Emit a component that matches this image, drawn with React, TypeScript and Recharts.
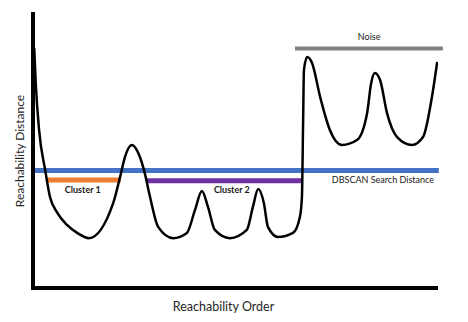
import React from 'react';
import { LineChart, Line, XAxis, YAxis, ReferenceLine, ReferenceDot } from 'recharts';

// reachability plot (order and distance both 0..100)
const curveOrder = [
  0.3, 0.7, 1.5, 3.0, 4.2, 5.9, 8.4, 10.9, 13.8, 19.8, 21.5, 22.7, 24.4, 26.4, 27.4, 28.9, 30.9,
  34.6, 38.0, 40.0, 41.7, 43.2, 44.9, 48.6, 52.8, 54.3, 55.6, 57.0, 58.0, 60.5, 64.2, 65.9,
  66.4, 66.7, 66.9, 67.7, 68.9, 70.9, 73.3, 76.3, 80.0, 82.5, 83.5, 84.4, 85.7, 87.4, 89.9,
  93.6, 96.3, 98.5, 99.8,
];
const curveDistance = [
  87.6, 74.1, 57.7, 43.1, 33.2, 27.7, 23.0, 20.1, 18.2, 31.0, 40.5, 47.8, 52.2, 47.8, 43.1, 33.2, 22.3,
  18.2, 20.1, 28.5, 35.4, 29.6, 21.2, 18.2, 21.2, 29.6, 36.1, 31.0, 22.3, 18.6, 20.1, 25.9,
  33.2, 61.3, 79.6, 84.3, 82.1, 69.7, 57.7, 52.2, 54.0, 63.9, 74.8, 78.5, 75.9, 63.9, 55.1,
  52.2, 55.1, 69.7, 82.5,
];

const epsDistance = 42.9;
const epsStart = 0;
const epsEnd = 100.2;

const clusterNames = ['Cluster 1', 'Cluster 2'];
const clusterStart = [3.5, 27.9];
const clusterEnd = [21.7, 66.4];
const clusterLevel = [39.4, 39.1];
const clusterColors = ['#ED7D31', '#7030A0'];

const noiseStart = 64.7;
const noiseEnd = 101.2;
const noiseLevel = 87.4;

const data = curveOrder.map((o, i) => ({ order: o, distance: curveDistance[i] }));

const font = 'Lato, "Open Sans", sans-serif';

const yTitle = (props: any) => {
  const vb = props.viewBox;
  const cx = vb.x + vb.width - 14;
  const cy = vb.y + vb.height / 2;
  return (
    <text x={cx} y={cy} transform={`rotate(-90 ${cx} ${cy})`} textAnchor="middle" dominantBaseline="central"
      fontFamily={font} fontSize={12} fill="#262626">
      Reachability Distance
    </text>
  );
};

const xTitle = (props: any) => {
  const vb = props.viewBox;
  const cx = vb.x + vb.width / 2 - 12;
  const cy = vb.y + 18;
  return (
    <text x={cx} y={cy} textAnchor="middle" dominantBaseline="central" fontFamily={font} fontSize={12.5} fill="#262626">
      Reachability Order
    </text>
  );
};

const tag = (value: string, bold = false) => ({
  value,
  position: 'center' as const,
  fill: '#1a1a1a',
  fontSize: 9,
  fontWeight: bold ? 700 : 400,
  fontFamily: font,
});

export default function App() {
  return (
    <div style={{ position: 'absolute', left: 0, top: 0, background: '#fff' }}>
      <LineChart width={468} height={322} data={data} margin={{ top: 14, right: 30, left: 32, bottom: 33 }}>
        <XAxis type="number" dataKey="order" domain={[0, 100]} allowDataOverflow tick={false} tickLine={false}
          height={1} axisLine={{ stroke: '#000', strokeWidth: 4 }} label={{ content: xTitle }} />
        <YAxis type="number" domain={[0, 100]} allowDataOverflow tick={false} tickLine={false} width={1}
          axisLine={{ stroke: '#000', strokeWidth: 4, strokeLinecap: 'square' }} label={{ content: yTitle }} />
        <ReferenceLine segment={[{ x: epsStart, y: epsDistance }, { x: epsEnd, y: epsDistance }]}
          stroke="#4472C4" strokeWidth={5} ifOverflow="visible" />
        {clusterNames.map((name, i) => (
          <ReferenceLine key={name}
            segment={[{ x: clusterStart[i], y: clusterLevel[i] }, { x: clusterEnd[i], y: clusterLevel[i] }]}
            stroke={clusterColors[i]} strokeWidth={5} ifOverflow="visible" />
        ))}
        <ReferenceLine segment={[{ x: noiseStart, y: noiseLevel }, { x: noiseEnd, y: noiseLevel }]}
          stroke="#808080" strokeWidth={4} ifOverflow="visible" />
        <Line type="monotone" dataKey="distance" stroke="#000" strokeWidth={2.5} dot={false} isAnimationActive={false} />
        <ReferenceDot x={12.3} y={35.8} r={0} fill="none" stroke="none" ifOverflow="visible" label={tag(clusterNames[0], true)} />
        <ReferenceDot x={49.1} y={35.8} r={0} fill="none" stroke="none" ifOverflow="visible" label={tag(clusterNames[1], true)} />
        <ReferenceDot x={86.4} y={39.4} r={0} fill="none" stroke="none" ifOverflow="visible" label={tag('DBSCAN Search Distance')} />
        <ReferenceDot x={83.0} y={91.6} r={0} fill="none" stroke="none" ifOverflow="visible" label={tag('Noise')} />
      </LineChart>
    </div>
  );
}
